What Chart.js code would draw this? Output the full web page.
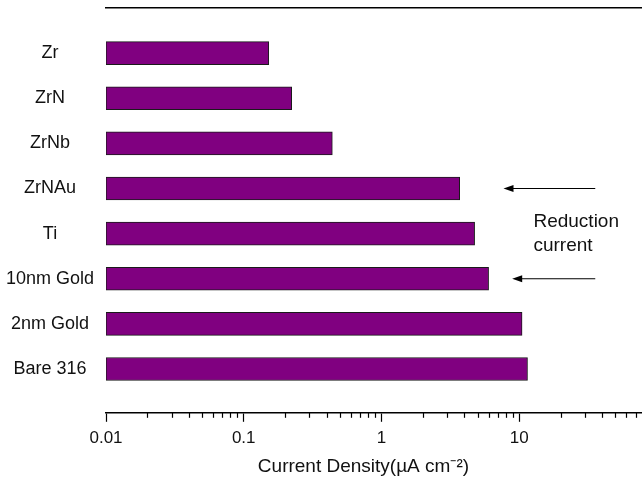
<!DOCTYPE html>
<html>
<head>
<meta charset="utf-8">
<script src="https://cdn.jsdelivr.net/npm/chart.js@4"></script>
<style>
  html, body { margin: 0; padding: 0; background: #fff; }
  #wrap { width: 642px; height: 486px; }
</style>
</head>
<body>
<div id="wrap"><canvas id="myChart"></canvas></div>
<script>
// ---------- Datos ----------
const muestras = ['Zr', 'ZrN', 'ZrNb', 'ZrNAu', 'Ti', '10nm Gold', '2nm Gold', 'Bare 316'];
const densidad = [0.152, 0.223, 0.44, 3.7, 4.75, 6.0, 10.5, 11.5];
const ticksX = [0.01, 0.1, 1, 10];
const etiquetasX = ['0.01', '0.1', '1', '10'];

// flechas "Reduction current" (fila, desde, hasta)
const flechas = [
  { fila: 3, desde: 35.7, hasta: 7.7 },
  { fila: 5, desde: 35.7, hasta: 8.9 }
];
const notaTexto = ['Reduction', 'current'];
const notaPos = { fila: 4, x: 12.7 };

const FUENTE = '"Liberation Sans", Arial, sans-serif';

// ---------- Plugin: ticks menores y anotaciones ----------
const extras = {
  id: 'extras',
  afterDraw(chart) {
    const ctx = chart.ctx;
    const xs = chart.scales.x;
    const ys = chart.scales.y;

    // ticks menores del eje log
    ctx.save();
    ctx.strokeStyle = '#000';
    ctx.lineWidth = 1.2;
    for (let e = -2; e <= 1; e++) {
      for (let m = 2; m <= 9; m++) {
        const v = m * Math.pow(10, e);
        if (v > xs.max) continue;
        const px = Math.round(xs.getPixelForValue(v)) + 0.5;
        ctx.beginPath();
        ctx.moveTo(px, xs.top);
        ctx.lineTo(px, xs.top + 5);
        ctx.stroke();
      }
    }

    // flechas
    ctx.fillStyle = '#000';
    ctx.lineWidth = 1.2;
    flechas.forEach(f => {
      const y = ys.getPixelForValue(f.fila);
      const x0 = xs.getPixelForValue(f.desde);
      const x1 = xs.getPixelForValue(f.hasta);
      ctx.beginPath();
      ctx.moveTo(x0, y);
      ctx.lineTo(x1 + 8, y);
      ctx.stroke();
      ctx.beginPath();
      ctx.moveTo(x1, y);
      ctx.lineTo(x1 + 10, y - 3.5);
      ctx.lineTo(x1 + 10, y + 3.5);
      ctx.closePath();
      ctx.fill();
    });

    // texto
    ctx.fillStyle = '#111';
    ctx.font = '19px ' + FUENTE;
    ctx.textAlign = 'left';
    ctx.textBaseline = 'middle';
    const tx = xs.getPixelForValue(notaPos.x);
    const ty = ys.getPixelForValue(notaPos.fila);
    ctx.fillText(notaTexto[0], tx, ty - 12);
    ctx.fillText(notaTexto[1], tx, ty + 12);
    ctx.restore();
  }
};

// ---------- Gráfica ----------
const ctx = document.getElementById('myChart').getContext('2d');

new Chart(ctx, {
  type: 'bar',
  data: {
    datasets: [{
      data: densidad.map((v, i) => ({ x: v, y: i })),
      backgroundColor: '#800080',
      borderColor: '#1a1a1a',
      borderWidth: 1,
      borderSkipped: false,
      barThickness: 23
    }]
  },
  options: {
    indexAxis: 'y',
    responsive: true,
    maintainAspectRatio: false,
    animation: false,
    layout: { padding: { left: 5, right: 0, top: 8, bottom: 6 } },
    plugins: {
      legend: { display: false },
      tooltip: { enabled: false }
    },
    scales: {
      x: {
        type: 'logarithmic',
        position: 'bottom',
        min: 0.01,
        max: 78,
        afterBuildTicks: scale => {
          scale.ticks = ticksX.map(v => ({ value: v, major: true }));
        },
        ticks: {
          color: '#111',
          font: { family: FUENTE, size: 17 },
          padding: 6,
          autoSkip: false,
          maxRotation: 0,
          callback: v => {
            const i = ticksX.indexOf(v);
            return i >= 0 ? etiquetasX[i] : '';
          }
        },
        grid: {
          display: true,
          drawOnChartArea: false,
          drawTicks: true,
          tickLength: 9,
          tickColor: '#000',
          tickWidth: 1.2
        },
        border: { display: true, color: '#000', width: 1.5 },
        title: {
          display: true,
          text: 'Current Density(\u00b5A cm\u207b\u00b2)    ',
          color: '#111',
          font: { family: FUENTE, size: 19 },
          padding: { top: 1, bottom: 2 }
        }
      },
      x2: {
        type: 'linear',
        position: 'top',
        min: 0,
        max: 1,
        afterFit: scale => { scale.height = 0; },
        ticks: { display: false },
        grid: { display: false, drawTicks: false },
        border: { display: true, color: '#000', width: 1.5 }
      },
      y: {
        type: 'linear',
        reverse: true,
        offset: false,
        min: -1,
        max: 7.97,
        afterFit: scale => {
          scale.width = 101;
          scale.paddingTop = 0;
          scale.paddingBottom = 0;
        },
        ticks: {
          stepSize: 1,
          includeBounds: false,
          autoSkip: false,
          crossAlign: 'center',
          padding: 12,
          color: '#111',
          font: { family: FUENTE, size: 18 },
          callback: v => (Number.isInteger(v) && v >= 0 && v < muestras.length) ? muestras[v] : ''
        },
        grid: { display: false, drawTicks: false },
        border: { display: false }
      }
    }
  },
  plugins: [extras]
});
</script>
</body>
</html>
